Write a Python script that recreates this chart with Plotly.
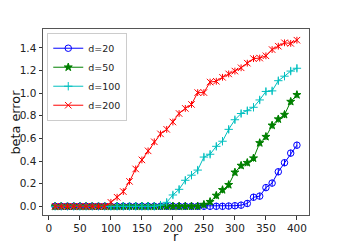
import plotly.graph_objects as go

r = [10, 20, 30, 40, 50, 60, 70, 80, 90, 100, 110, 120, 130, 140, 150, 160, 170, 180, 190, 200,
     210, 220, 230, 240, 250, 260, 270, 280, 290, 300, 310, 320, 330, 340, 350, 360, 370, 380, 390, 400]

d20 = [0]*28 + [0.002, 0.005, 0.01, 0.025, 0.08, 0.09, 0.165, 0.205, 0.305, 0.385, 0.47, 0.54]
d50 = [0]*24 + [0.015, 0.04, 0.095, 0.145, 0.19, 0.3, 0.36, 0.385, 0.425, 0.56, 0.615, 0.715,
                0.77, 0.81, 0.925, 0.985]
d100 = [0]*17 + [0.01, 0.035, 0.1, 0.15, 0.23, 0.275, 0.32, 0.435, 0.46, 0.53, 0.575, 0.68, 0.765,
                 0.82, 0.845, 0.875, 0.94, 1.015, 1.02, 1.11, 1.15, 1.195, 1.22]
d200 = [0]*9 + [0.035, 0.08, 0.13, 0.22, 0.33, 0.41, 0.49, 0.57, 0.64, 0.68, 0.745, 0.82, 0.865,
                0.9, 1.005, 1.005, 1.098, 1.105, 1.14, 1.17, 1.195, 1.224, 1.265, 1.305, 1.31,
                1.33, 1.385, 1.415, 1.445, 1.44, 1.468]

x_title = "r"
y_title = "beta error"

series = [
    ("d=20", d20, "#0000ff", "circle-open", 6.5),
    ("d=50", d50, "#008000", "star", 6),
    ("d=100", d100, "#00bfbf", "cross-thin-open", 6),
    ("d=200", d200, "#ff0000", "x-thin-open", 6.5),
]

fig = go.Figure()
for name, ys, col, sym, sz in series:
    fig.add_trace(go.Scatter(
        x=r, y=ys, name=name, mode="lines+markers",
        line=dict(color=col, width=1),
        marker=dict(symbol=sym, size=sz, color=col, line=dict(color=col, width=1)),
        error_y=dict(type="constant", value=0.03, width=0, thickness=1, color=col),
    ))

axis_common = dict(
    showline=True, linecolor="#555555", linewidth=1, mirror=True,
    ticks="outside", ticklen=3.5, tickcolor="#333333", tickwidth=1,
    showgrid=False, zeroline=False, automargin=False,
    tickfont=dict(family="DejaVu Sans", size=10.5, color="#222222"),
)

# The page body has an 8px default margin, so the figure is sized to fill the rest.
fig.update_layout(
    width=335, height=237,
    margin=dict(l=35, r=34, t=21, b=30, pad=0),
    paper_bgcolor="white", plot_bgcolor="white",
    font=dict(family="DejaVu Sans", size=10, color="#222222"),
    xaxis=dict(range=[-9.5, 419.5], tickvals=[0, 50, 100, 150, 200, 250, 300, 350, 400],
               **axis_common),
    yaxis=dict(range=[-0.077, 1.567], tickvals=[0, 0.2, 0.4, 0.6, 0.8, 1.0, 1.2, 1.4],
               tickformat=".1f", **axis_common),
    legend=dict(x=0.016, y=0.98, xanchor="left", yanchor="top",
                bgcolor="rgba(255,255,255,0.8)", bordercolor="#cccccc", borderwidth=1,
                font=dict(size=9.5), itemwidth=30, tracegroupgap=0),
    showlegend=True,
    annotations=[
        dict(text=x_title, xref="paper", yref="paper", x=0.5, y=0, xanchor="center",
             yanchor="bottom", yshift=-30, showarrow=False, borderpad=0,
             font=dict(size=12.8, color="#111111")),
        dict(text=y_title, xref="paper", yref="paper", x=0, y=0.5, xanchor="right",
             yanchor="middle", xshift=-20, textangle=-90, showarrow=False, borderpad=0,
             font=dict(size=12.8, color="#111111")),
    ],
)

fig.write_html("out.html")
